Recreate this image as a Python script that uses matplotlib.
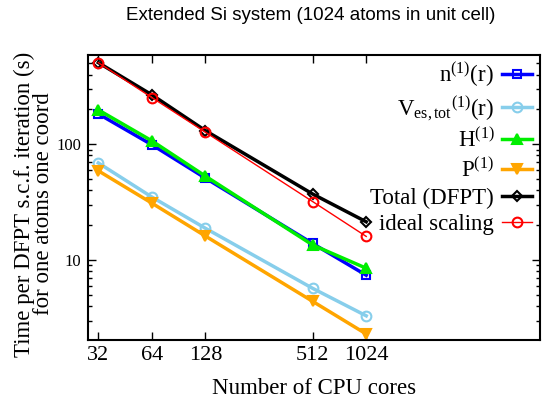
import numpy as np
import matplotlib
matplotlib.use('Agg')
import matplotlib.pyplot as plt

# Dados (tempo por iteração, s)
cores = [32, 64, 128, 512, 1024]
n1 = [183, 99, 51, 13.9, 7.4]
v_es_tot = [69, 35, 18.8, 5.7, 3.3]
h1 = [198, 107, 53, 13.5, 8.5]
p1 = [59, 31, 16.1, 4.4, 2.3]
total = [507, 267, 131, 37.2, 21.4]
ideal = [507, 253, 127, 32, 16]
tick_labels = ['32', '64', '128', '512', '1024']

plt.rcParams['font.family'] = 'Liberation Serif'
plt.rcParams['mathtext.fontset'] = 'custom'
plt.rcParams['mathtext.rm'] = 'Liberation Serif'
plt.rcParams['mathtext.it'] = 'Liberation Serif:italic'

fig = plt.figure(figsize=(5.44, 4.0), dpi=100)
ax = fig.add_axes([88/544, 60/400, 452/544, 285/400])

series = [
    (n1, r'n$^{(1)}$(r)', 'blue', 's', 'none', 2.5, 6),
    (v_es_tot, r'V$_{\mathrm{es,tot}}$$^{(1)}$(r)', '#87ceeb', 'o', 'none', 2.5, 7),
    (h1, r'H$^{(1)}$', '#00ee00', '^', '#00ee00', 2.5, 7),
    (p1, r'P$^{(1)}$', 'orange', 'v', 'orange', 2.5, 7),
    (total, 'Total (DFPT)', 'black', 'D', 'none', 2.5, 5.5),
    (ideal, 'ideal scaling', 'red', 'o', 'none', 1.0, 7),
]
for vals, lab, cor, mk, mfc, lw, ms in series:
    ax.plot(cores, vals, color=cor, lw=lw, marker=mk, markerfacecolor=mfc,
            markeredgecolor=cor, markeredgewidth=1.5, markersize=ms, label=lab)

ax.set_xscale('log')
ax.set_yscale('log')
ax.set_xlim(28, 9700)
ax.set_ylim(2.04, 590)
ax.set_xticks(cores)
ax.set_xticklabels(tick_labels)
ax.xaxis.set_minor_locator(matplotlib.ticker.NullLocator())
ax.set_yticks([10, 100])
ax.set_yticklabels(['10', '100'])
ax.tick_params(which='both', direction='in', top=True, right=True)
ax.tick_params(axis='x', labelsize=16, pad=4)
ax.tick_params(axis='y', labelsize=12, pad=5)
ax.tick_params(which='major', length=6, width=1)
ax.tick_params(which='minor', length=3, width=1)
for s in ax.spines.values():
    s.set_linewidth(1.5)

ax.set_xlabel('Number of CPU cores', fontsize=16.5, labelpad=10)
ax.set_ylabel('Time per DFPT s.c.f. iteration (s)\nfor one atoms one coord',
              fontsize=16.5, linespacing=0.88, va='center')
ax.yaxis.set_label_coords((34 - 88) / 452, 0.477)

ax.legend(loc='upper right', bbox_to_anchor=(532/544, 1 - 60/400),
          bbox_transform=fig.transFigure, markerfirst=False, frameon=False,
          fontsize=16.5, handlelength=1.3, labelspacing=0.25, borderpad=0,
          borderaxespad=0, handletextpad=0.35)

fig.text(311/544, 1 - 16/400, 'Extended Si system (1024 atoms in unit cell)',
         family='Liberation Sans', fontsize=13.5, ha='center', va='center')

fig.savefig('out.png', dpi=100, facecolor='white')
